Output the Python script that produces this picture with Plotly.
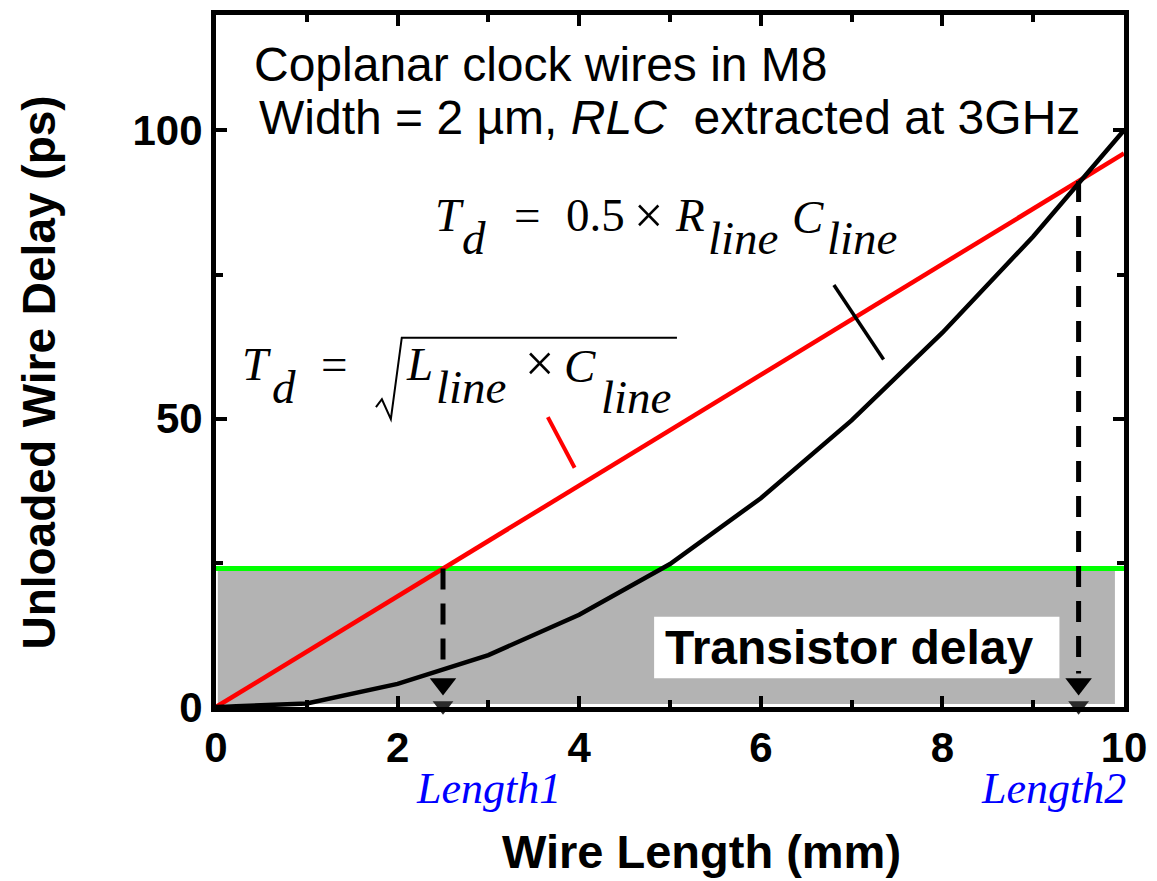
import plotly.graph_objects as go

# ---------------- data ----------------
wire_length_mm = [0, 1, 2, 3, 4, 5, 6, 7, 8, 9, 10]
rc_delay_ps = [0, 0.6, 4.0, 9.0, 16.0, 24.8, 36.2, 49.7, 64.9, 81.6, 100.0]
lc_length_mm = [0, 10]
lc_delay_ps = [0, 96]
transistor_delay_ps = 24
cross_length_mm = [2.5, 9.5]
cross_delay_ps = [24, 91.2]
length_labels = ["Length1", "Length2"]
length_label_x = [3.0, 9.22]
x_ticks = [0, 2, 4, 6, 8, 10]
y_ticks = [0, 50, 100]
x_range = [0, 10]
y_range = [0, 120]

# ---------------- layout geometry (pixels) ----------------
W, H = 1157, 881
ML, MR, MT, MB = 216, 27, 10, 174
PX0, PX1 = ML, W - MR
PY0, PY1 = H - MB, MT


def dx(px):
    return x_range[0] + (px - PX0) / (PX1 - PX0) * (x_range[1] - x_range[0])


def dy(py):
    return y_range[0] + (PY0 - py) / (PY0 - PY1) * (y_range[1] - y_range[0])


def paper_x(px):
    return (px - PX0) / (PX1 - PX0)


def paper_y(py):
    return (PY0 - py) / (PY0 - PY1)


SANS = "Liberation Sans, Arial, sans-serif"
SERIF = "Liberation Serif, Times New Roman, serif"

fig = go.Figure()

# transistor-delay band and label box
fig.add_shape(type="rect", xref="x", yref="y", x0=0.02, x1=9.9, y0=0.5,
              y1=transistor_delay_ps, fillcolor="#b3b3b3", line_width=0, layer="below")
fig.add_shape(type="rect", xref="x", yref="y", x0=dx(657), x1=dx(1065), y0=dy(678),
              y1=dy(616), fillcolor="white", line_width=0, layer="below")

# green transistor-delay line
fig.add_trace(go.Scatter(x=x_range, y=[transistor_delay_ps, transistor_delay_ps],
                         mode="lines", line=dict(color="#00ff00", width=5),
                         hoverinfo="skip", showlegend=False))
# LC delay (red)
fig.add_trace(go.Scatter(x=lc_length_mm, y=lc_delay_ps, mode="lines",
                         line=dict(color="#ff0000", width=4.5), showlegend=False))
# RC delay (black)
fig.add_trace(go.Scatter(x=wire_length_mm, y=rc_delay_ps, mode="lines",
                         line=dict(color="black", width=4.5), showlegend=False))

# dashed drop lines with arrowheads
for xm, ym in zip(cross_length_mm, cross_delay_ps):
    fig.add_trace(go.Scatter(x=[xm, xm], y=[ym, 5.8], mode="lines",
                             line=dict(color="black", width=5, dash="21px,14px"),
                             showlegend=False))
fig.add_trace(go.Scatter(x=cross_length_mm, y=[4.0, 4.0], mode="markers",
                         marker=dict(symbol="triangle-down", size=23, color="black"),
                         showlegend=False, cliponaxis=False))
fig.add_trace(go.Scatter(x=cross_length_mm, y=[0.2, 0.2], mode="markers",
                         marker=dict(symbol="triangle-down", size=18, color="#2b2b2b"),
                         showlegend=False, cliponaxis=False))

# leader lines from formulas
fig.add_shape(type="line", xref="x", yref="y", x0=dx(550), y0=dy(415), x1=dx(577), y1=dy(466),
              line=dict(color="#ff0000", width=4))
fig.add_shape(type="line", xref="x", yref="y", x0=dx(838), y0=dy(282), x1=dx(888), y1=dy(357),
              line=dict(color="black", width=3.5))

# radical sign of the LC formula
rad = [(377, 405), (383, 397), (392, 417), (403, 335), (680, 335)]
path = "M " + " L ".join(f"{dx(a):.4f},{dy(b):.4f}" for a, b in rad)
fig.add_shape(type="path", xref="x", yref="y", path=path,
              line=dict(color="black", width=2))

annotations = []


def piece(text, left_px, base_px, size=47, family=SERIF, color="black", weight="normal"):
    annotations.append(dict(
        x=dx(left_px), y=dy(base_px - 0.3375 * size), xref="x", yref="y",
        xanchor="left", yanchor="middle", text=text, showarrow=False, borderpad=0,
        font=dict(family=family, size=size, color=color, weight=weight)))


# T_d = 0.5 x R_line C_line
piece("<i>T</i>", 435, 227)
piece("<i>d</i>", 463, 250)
piece("=", 515, 227)
piece("0.5", 567, 227)
piece("×", 636, 229, size=52)
piece("<i>R</i>", 677, 227)
piece("<i>line</i>", 710, 250)
piece("<i>C</i>", 795, 229)
piece("<i>line</i>", 830, 250)

# T_d = sqrt(L_line x C_line)
piece("<i>T</i>", 241, 377)
piece("<i>d</i>", 271, 401)
piece("=", 321, 377)
piece("<i>L</i>", 406, 377)
piece("<i>line</i>", 436, 401)
piece("×", 526, 379, size=52)
piece("<i>C</i>", 565, 379)
piece("<i>line</i>", 603, 411)

# header text
piece("Coplanar clock wires in M8", 253, 76, size=48, family=SANS)
piece("Width = 2 µm, <i>RLC</i>  extracted at 3GHz", 258, 129, size=48, family=SANS)

# transistor delay label
piece("Transistor delay", 667, 663, size=48, family=SANS, weight="bold")

# Length labels (below the axis)
for lab, lx in zip(length_labels, length_label_x):
    annotations.append(dict(x=lx, y=paper_y(789), xref="x", yref="paper", xanchor="center",
                            yanchor="middle", text=f"<i>{lab}</i>", showarrow=False,
                            borderpad=0,
                            font=dict(family=SERIF, size=44, color="#0000ff")))

# axis titles
annotations.append(dict(x=paper_x(705), y=paper_y(853), xref="paper", yref="paper",
                        xanchor="center", yanchor="middle", text="Wire Length (mm)",
                        showarrow=False,
                        font=dict(family=SANS, size=47, color="black", weight="bold")))
annotations.append(dict(x=paper_x(38), y=paper_y(370), xref="paper", yref="paper",
                        xanchor="center", yanchor="middle", text="Unloaded Wire Delay (ps)",
                        textangle=-90, showarrow=False,
                        font=dict(family=SANS, size=46, color="black", weight="bold")))

axis_common = dict(showline=True, linewidth=5, linecolor="black", mirror="ticks",
                   ticks="inside", ticklen=11, tickwidth=3.5, tickcolor="black",
                   showgrid=False, zeroline=False,
                   tickfont=dict(family=SANS, size=42, color="black", weight="bold"))

fig.update_layout(
    width=W, height=H,
    margin=dict(l=ML, r=MR, t=MT, b=MB),
    paper_bgcolor="white", plot_bgcolor="white",
    showlegend=False,
    xaxis=dict(range=x_range, tickvals=x_ticks,
               minor=dict(dtick=1, ticks="inside", ticklen=7, tickwidth=3.5, tickcolor="black"),
               **axis_common),
    yaxis=dict(range=y_range, tickvals=y_ticks,
               minor=dict(dtick=25, ticks="inside", ticklen=7, tickwidth=3.5, tickcolor="black"),
               **axis_common),
    annotations=annotations,
)

fig.write_html("out.html")
